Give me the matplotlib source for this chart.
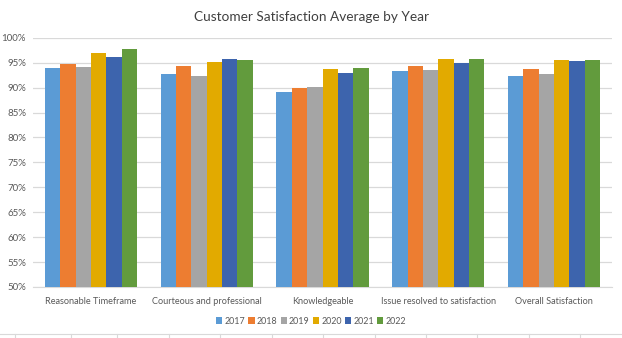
import matplotlib
matplotlib.use('Agg')
from matplotlib import pyplot as plt
import numpy as np

categories = ['Reasonable Timeframe', 'Courteous and professional', 'Knowledgeable',
              'Issue resolved to satisfaction', 'Overall Satisfaction']
years = ['2017', '2018', '2019', '2020', '2021', '2022']
scores = {
    '2017': [94.0, 92.8, 89.2, 93.4, 92.4],
    '2018': [94.8, 94.4, 90.0, 94.4, 93.8],
    '2019': [94.2, 92.4, 90.2, 93.6, 92.8],
    '2020': [97.0, 95.2, 93.8, 95.8, 95.6],
    '2021': [96.2, 95.8, 93.0, 95.0, 95.4],
    '2022': [97.7, 95.6, 94.0, 95.8, 95.6],
}
colors = ['#5B9BD5', '#ED7D31', '#A5A5A5', '#E2AA00', '#3D64AD', '#629B3D']
yticks = np.arange(50, 101, 5)

plt.rcParams['font.family'] = ['Lato', 'DejaVu Sans']

fig = plt.figure(figsize=(6.22, 3.38), dpi=100)
ax = fig.add_axes([0.053, 0.151, 0.931, 0.737])

x = np.arange(len(categories))
w = 0.1325
for i, yr in enumerate(years):
    ax.bar(x + (i - 2.5) * w, scores[yr], width=w, color=colors[i], label=yr, zorder=3)

ax.set_xlim(-0.5, len(categories) - 0.5)
ax.set_ylim(50, 100)
ax.set_yticks(yticks)
ax.set_yticklabels(['%d%%' % v for v in yticks])
ax.set_xticks(x)
ax.set_xticklabels(categories, fontsize=6.6)
ax.tick_params(axis='both', length=0, colors='#595959')
ax.tick_params(axis='y', pad=5, labelsize=7)
ax.tick_params(axis='x', pad=7)
ax.grid(axis='y', color='#D9D9D9', linewidth=0.9, zorder=0)
for s in ['top', 'right', 'left']:
    ax.spines[s].set_visible(False)
ax.spines['bottom'].set_color('#D9D9D9')

fig.text(0.5, 0.95, 'Customer Satisfaction Average by Year', ha='center', va='center',
         fontsize=9.8, color='#404040')

fig.legend(loc='center', bbox_to_anchor=(0.5, 0.05), ncol=6, frameon=False,
           fontsize=6.4, handlelength=0.7, handleheight=0.7, handletextpad=0.25,
           columnspacing=0.35, labelcolor='#595959')

# sheet gridline below the chart, with column separators
fig.add_artist(plt.Line2D([0, 1], [0.012, 0.012], color='#D9D9D9', linewidth=0.8,
                          transform=fig.transFigure))
for cx in [15, 71, 117, 169, 220, 272, 323, 375, 426, 477, 529, 580]:
    fig.add_artist(plt.Line2D([cx / 622, cx / 622], [0.0, 0.012], color='#D9D9D9',
                              linewidth=0.8, transform=fig.transFigure))

fig.savefig('out.png', dpi=100)
